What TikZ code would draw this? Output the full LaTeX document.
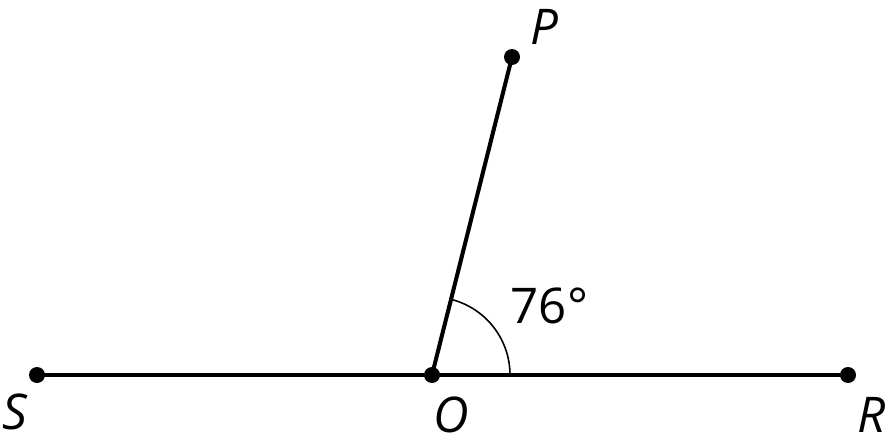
\documentclass[tikz,border=0pt]{standalone}
\usepackage{fontspec}
\setmainfont{Open Sans}
\usetikzlibrary{positioning}

\begin{document}
\begin{tikzpicture}[dot/.style={circle,fill=black,inner sep=0pt,minimum size=0.16cm},
                    lbl/.style={font=\fontsize{14}{16}\selectfont\itshape},
                    seg/.style={line width=1.15pt}]
             \useasboundingbox (0,0) rectangle (8.86,4.47);
             \node[dot] (S) at (0.37,0.72) {};
             \node[dot] (O) at (4.32,0.72) {};
             \node[dot] (R) at (8.48,0.72) {};
             \node[dot] (P) at (5.12,3.90) {};
             \node[lbl] (S_l) at (0.15,0.35) {S};
             \node[lbl] (O_l) at (4.51,0.32) {O};
             \node[lbl] (R_l) at (8.72,0.32) {R};
             \node[lbl] (P_l) at (5.445,4.20) {P};
             \node[font=\fontsize{14}{16}\selectfont] (ang) at (5.495,1.415) {76°};
             \draw[seg] (S.center) -- (O.center) -- (R.center);
             \draw[seg] (O.center) -- (P.center);
             \draw[line width=0.45pt] ([xshift=0.78cm]O.center) arc[start angle=0,end angle=75.9,radius=0.78cm];
\end{tikzpicture}
\end{document}
